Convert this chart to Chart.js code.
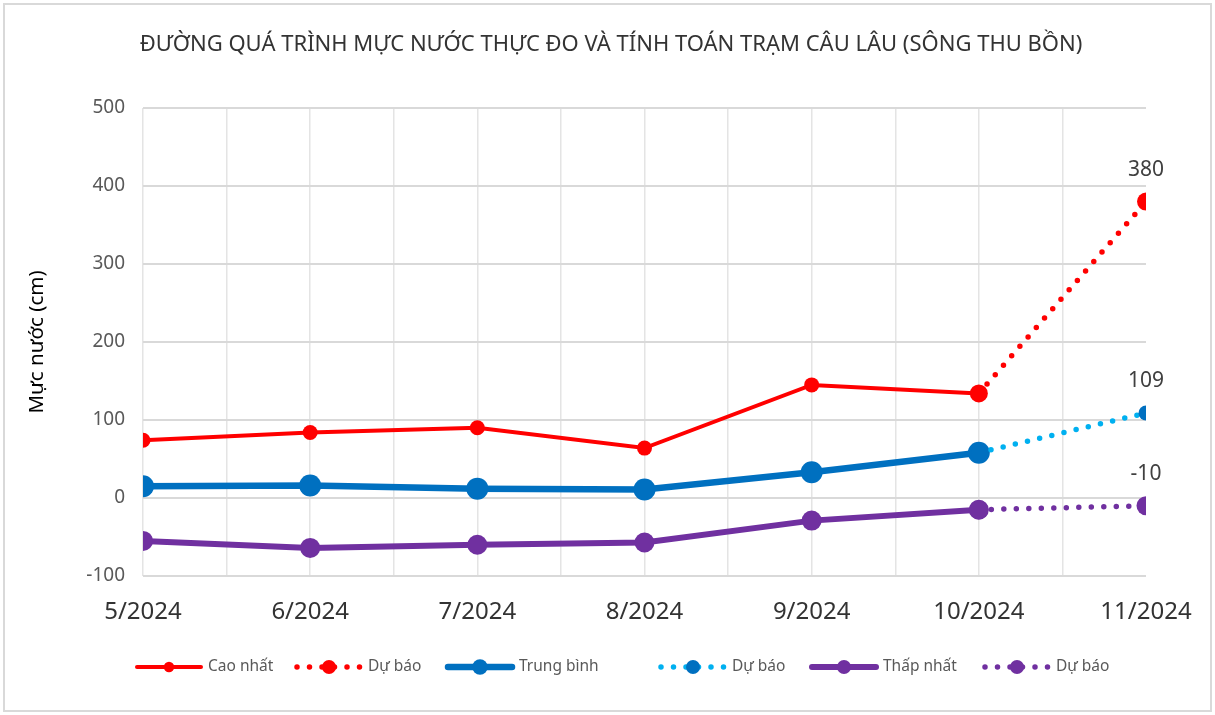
<!DOCTYPE html>
<html lang="vi">
<head>
<meta charset="utf-8">
<title>Muc nuoc Cau Lau</title>
<script src="https://cdn.jsdelivr.net/npm/chart.js@4.4.1/dist/chart.umd.min.js"></script>
<style>
  html, body { margin: 0; padding: 0; background: #fff; overflow: hidden; }
</style>
</head>
<body>
<canvas id="chart-0" width="1215" height="715"></canvas>
<script>
// data
var months   = ['5/2024', '6/2024', '7/2024', '8/2024', '9/2024', '10/2024', '11/2024'];
var highObs  = [74, 84, 90, 64, 145, 134, null];
var highFcst = [null, null, null, null, null, 134, 380];
var avgObs   = [15, 16, 12, 11, 33, 58, null];
var avgFcst  = [null, null, null, null, null, 58, 109];
var lowObs   = [-55, -64, -60, -57, -29, -15, null];
var lowFcst  = [null, null, null, null, null, -15, -10];
var yMin = -100, yMax = 500, yStep = 100;
var chartTitle = 'ĐƯỜNG QUÁ TRÌNH MỰC NƯỚC THỰC ĐO VÀ TÍNH TOÁN TRẠM CÂU LÂU (SÔNG THU BỒN)';

var FONT = '"Noto Sans", "Open Sans", sans-serif';
var RED = '#ff0000', BLUE = '#0070c0', SKY = '#00b0f0', PURPLE = '#7030a0';

function pts(arr) {
    return arr.map(function (v, i) { return { x: i, y: v }; });
}

function solid(label, arr, color, width, radius) {
    return {
        label: label, data: pts(arr), order: 1,
        borderColor: color, borderWidth: width,
        pointRadius: radius, pointBorderWidth: 0,
        pointBackgroundColor: color, pointBorderColor: color,
        spanGaps: false, tension: 0,
        legendLine: width, legendDot: radius * 0.7, dotted: false
    };
}
function dotted(label, arr, color, markColor, radius) {
    return {
        label: label, data: pts(arr), order: 0,
        borderColor: color, borderWidth: 5.5,
        borderDash: [0, 12.5], borderCapStyle: 'round',
        pointRadius: radius, pointBorderWidth: 0,
        pointBackgroundColor: markColor, pointBorderColor: markColor,
        spanGaps: false, tension: 0,
        legendLine: 5.5, legendDot: 7, legendMark: markColor, dotted: true
    };
}

var datasets = [
    solid('Cao nhất', highObs, RED, 4, 7.5),
    dotted('Dự báo', highFcst, RED, RED, 9),
    solid('Trung bình', avgObs, BLUE, 6.5, 11),
    dotted('Dự báo', avgFcst, SKY, BLUE, 7.5),
    solid('Thấp nhất', lowObs, PURPLE, 6, 10),
    dotted('Dự báo', lowFcst, PURPLE, PURPLE, 9.5)
];

// white page, light frame and the title centred on the whole picture
var frame = {
    id: 'frame',
    beforeDraw: function (chart) {
        var c = chart.ctx;
        c.save();
        c.fillStyle = '#fff';
        c.fillRect(0, 0, chart.width, chart.height);
        c.restore();
    },
    afterDraw: function (chart) {
        var c = chart.ctx;
        c.save();
        c.strokeStyle = '#d9d9d9';
        c.lineWidth = 2;
        c.strokeRect(4, 4, chart.width - 8, chart.height - 8);
        c.font = '22px ' + FONT;
        c.fillStyle = '#333';
        c.textAlign = 'center';
        c.textBaseline = 'middle';
        c.fillText(chartTitle, 611, 45);
        c.restore();
    }
};

// value labels on the last forecast point
var endLabels = {
    id: 'endLabels',
    afterDatasetsDraw: function (chart) {
        var c = chart.ctx;
        c.save();
        c.font = '21px ' + FONT;
        c.fillStyle = '#404040';
        c.textAlign = 'center';
        c.textBaseline = 'middle';
        chart.data.datasets.forEach(function (ds, i) {
            if (!ds.dotted) return;
            var meta = chart.getDatasetMeta(i);
            var last = ds.data.length - 1;
            var p = meta.data[last];
            c.fillText(String(ds.data[last].y), p.x, p.y - 32);
        });
        c.restore();
    }
};

// Excel style legend: line sample with marker, then text
var legendX = [137, 297, 448, 661, 812, 985];
var lineLegend = {
    id: 'lineLegend',
    afterDraw: function (chart) {
        var c = chart.ctx;
        var y = 667;
        c.save();
        c.font = '15.5px ' + FONT;
        c.textBaseline = 'middle';
        chart.data.datasets.forEach(function (ds, i) {
            var x0 = legendX[i], w = 64, xm = x0 + w / 2;
            c.strokeStyle = ds.borderColor;
            c.lineWidth = ds.legendLine;
            c.lineCap = 'round';
            c.setLineDash(ds.dotted ? [0, 12.5] : []);
            c.beginPath();
            c.moveTo(x0, y);
            c.lineTo(x0 + w, y);
            c.stroke();
            c.setLineDash([]);
            c.fillStyle = ds.dotted ? ds.legendMark : ds.borderColor;
            c.beginPath();
            c.arc(xm, y, ds.legendDot, 0, Math.PI * 2);
            c.fill();
            c.fillStyle = '#595959';
            c.textAlign = 'left';
            c.fillText(ds.label, x0 + w + 7, y);
        });
        c.restore();
    }
};

var chart = new Chart('chart-0', {
    type: 'line',
    data: { datasets: datasets },
    plugins: [frame, endLabels, lineLegend],
    options: {
        responsive: false,
        animation: false,
        devicePixelRatio: 1,
        layout: { padding: { left: 0, right: 69, top: 108, bottom: 0 } },
        plugins: {
            legend: { display: false },
            tooltip: { enabled: false },
            title: { display: false }
        },
        scales: {
            x: {
                type: 'linear',
                min: 0, max: months.length - 1,
                afterFit: function (s) {
                    s.height = 139;
                    s.paddingLeft = 0;
                    s.paddingRight = 0;
                },
                border: { display: false },
                grid: {
                    drawTicks: false,
                    lineWidth: 1.5,
                    color: function (ctx) {
                        return ctx.tick && ctx.tick.value === months.length - 1 ? 'rgba(0,0,0,0)' : '#e4e4e4';
                    }
                },
                ticks: {
                    stepSize: 0.5,
                    autoSkip: false,
                    maxRotation: 0,
                    padding: 22,
                    color: '#333',
                    font: { family: FONT, size: 24 },
                    callback: function (v) { return Number.isInteger(v) ? months[v] : ''; }
                }
            },
            y: {
                min: yMin, max: yMax,
                afterFit: function (s) { s.width = 143; },
                border: { display: false },
                grid: { drawTicks: false, color: '#d9d9d9', lineWidth: 2 },
                ticks: {
                    stepSize: yStep,
                    padding: 18,
                    color: '#595959',
                    font: { family: FONT, size: 19 }
                },
                title: {
                    display: true,
                    text: 'Mực nước (cm)',
                    color: '#000',
                    font: { family: FONT, size: 20.5 },
                    padding: { top: 25, bottom: 0 }
                }
            }
        }
    }
});
</script>
</body>
</html>
